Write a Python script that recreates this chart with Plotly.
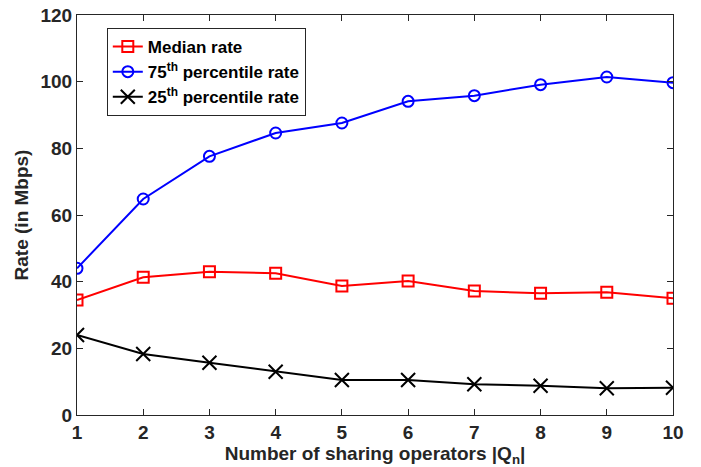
import plotly.graph_objects as go

# Number of operators sharing the spectrum
operators = [1, 2, 3, 4, 5, 6, 7, 8, 9, 10]

# Per-user rate statistics (Mbps)
median_rate = [34.5, 41.3, 43.0, 42.5, 38.7, 40.2, 37.2, 36.5, 36.8, 35.0]
p75_rate = [44.0, 64.8, 77.6, 84.6, 87.6, 94.1, 95.8, 99.1, 101.4, 99.7]
p25_rate = [24.0, 18.3, 15.7, 13.0, 10.5, 10.5, 9.2, 8.8, 8.0, 8.2]

y_ticks = [0, 20, 40, 60, 80, 100, 120]

FONT = "Liberation Sans, Arial, Helvetica, sans-serif"
AXIS_COLOR = "#262626"

fig = go.Figure()

fig.add_trace(go.Scatter(
    x=operators, y=median_rate, mode="lines+markers",
    name="<b>Median rate</b>",
    line=dict(color="#ff0000", width=2),
    marker=dict(symbol="square-open", size=11, color="#ff0000",
                line=dict(width=2, color="#ff0000")),
))
fig.add_trace(go.Scatter(
    x=operators, y=p75_rate, mode="lines+markers",
    name="<b>75<sup>th</sup> percentile rate</b>",
    line=dict(color="#0000ff", width=2),
    marker=dict(symbol="circle-open", size=11, color="#0000ff",
                line=dict(width=2, color="#0000ff")),
))
fig.add_trace(go.Scatter(
    x=operators, y=p25_rate, mode="lines+markers",
    name="<b>25<sup>th</sup> percentile rate</b>",
    line=dict(color="#000000", width=2),
    marker=dict(symbol="x-thin", size=14, color="#000000",
                line=dict(width=2, color="#000000")),
))

axis_common = dict(
    showline=True, linecolor=AXIS_COLOR, linewidth=1, mirror="ticks",
    ticks="inside", ticklen=6, tickwidth=1, tickcolor=AXIS_COLOR,
    showgrid=False, zeroline=False, automargin=False,
    tickfont=dict(family=FONT, size=19, color=AXIS_COLOR, weight="bold"),
)

fig.update_xaxes(
    range=[1, 10], tickvals=operators,
    title=dict(text="<b>Number of sharing operators |Q<sub>n</sub>|</b>",
               font=dict(family=FONT, size=19, color=AXIS_COLOR), standoff=0),
    **axis_common,
)
fig.update_yaxes(
    range=[0, 120], tickvals=y_ticks,
    title=dict(text="<b>Rate (in Mbps)</b>",
               font=dict(family=FONT, size=19, color=AXIS_COLOR), standoff=6),
    **axis_common,
)

fig.update_layout(
    width=701, height=467,
    margin=dict(l=77, r=28, t=15, b=52, autoexpand=False),
    plot_bgcolor="white", paper_bgcolor="white",
    font=dict(family=FONT, color="#000000"),
    legend=dict(
        x=0.05, y=0.9675, xanchor="left", yanchor="top",
        bgcolor="white", bordercolor="#262626", borderwidth=1,
        font=dict(family=FONT, size=17, color="#000000"),
        tracegroupgap=0, itemwidth=30,
    ),
    showlegend=True,
)

fig.write_html("out.html")
